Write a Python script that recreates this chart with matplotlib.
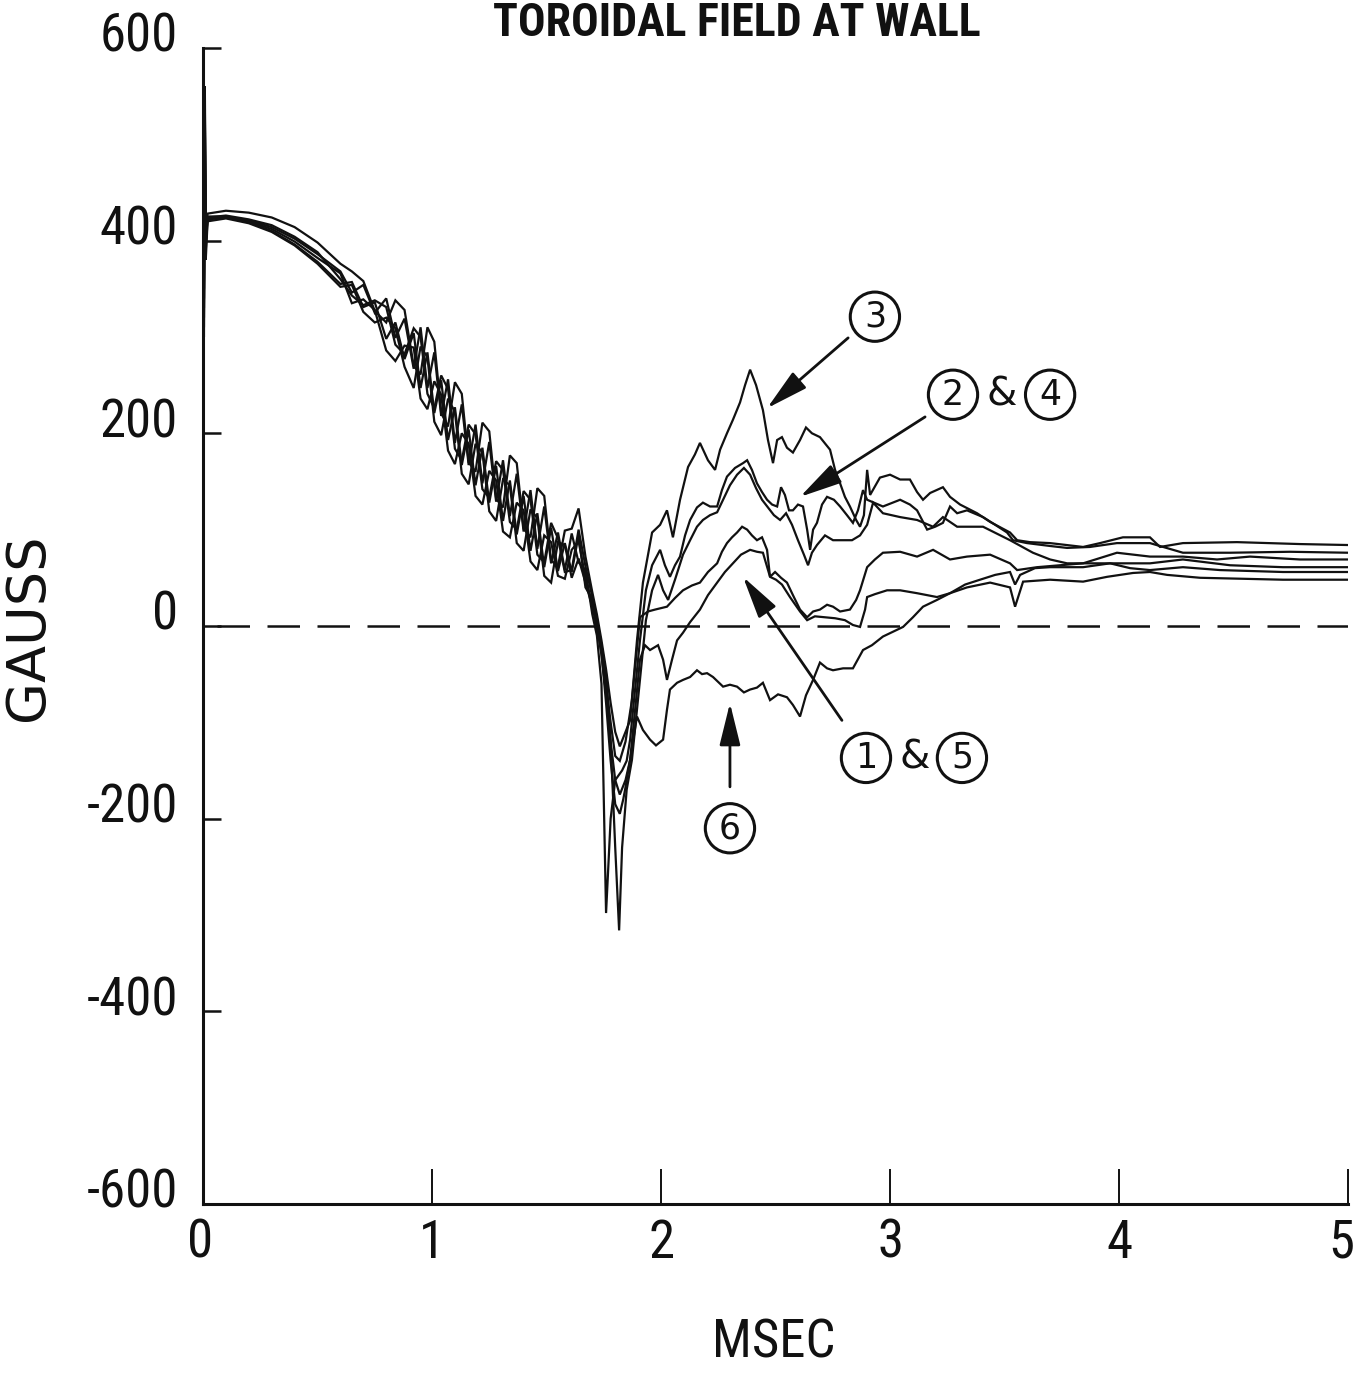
import matplotlib
matplotlib.use("Agg")
import matplotlib.pyplot as plt
from matplotlib import font_manager
from matplotlib.font_manager import FontProperties
import matplotlib.transforms as mtransforms

# ---------------- data ----------------
t_early = [0.0, 0.004, 0.008, 0.012, 0.02, 0.1, 0.2, 0.3, 0.4, 0.5, 0.6, 0.65, 0.7, 0.75, 0.8,
           0.84, 0.88, 0.92, 0.95, 0.98, 1.01, 1.04, 1.07, 1.10, 1.13, 1.16, 1.19, 1.22, 1.25,
           1.28, 1.31, 1.34, 1.37, 1.40, 1.43, 1.46, 1.49, 1.52, 1.55, 1.58, 1.61, 1.64, 1.67,
           1.70, 1.72, 1.74]

s1_early = [570, 330, 540, 390, 422, 424, 419, 410, 396, 378, 355, 357, 331, 336, 298,
            315, 277, 304, 247, 284, 221, 255, 193, 227, 167, 204, 146, 185, 128,
            166, 109, 151, 95, 135, 78, 117, 61, 102, 57, 86, 56, 94, 40, 28, -5, -20]
s2_early = [590, 300, 560, 420, 425, 425, 421, 414, 402, 386, 368, 346, 354, 325, 340,
            299, 319, 267, 310, 247, 284, 218, 256, 190, 230, 167, 209, 148, 191,
            129, 172, 114, 158, 98, 141, 80, 124, 65, 97, 58, 96, 66, 58, 12, -10, -60]
s3_early = [560, 350, 520, 410, 428, 431, 429, 424, 414, 398, 376, 368, 358, 327, 315,
            338, 328, 270, 261, 310, 295, 221, 207, 253, 241, 170, 160, 211, 202,
            132, 123, 177, 169, 101, 92, 143, 135, 68, 62, 99, 101, 122, 72, 35, 12, -15]
s4_early = [580, 320, 500, 400, 424, 426, 422, 416, 404, 388, 360, 343, 333, 338, 331,
            292, 282, 309, 300, 241, 226, 260, 246, 184, 172, 209, 199, 142, 133,
            171, 162, 108, 100, 140, 131, 74, 66, 107, 91, 56, 58, 100, 62, 30, 8, -20]
s5_early = [550, 340, 480, 380, 420, 423, 418, 409, 395, 376, 352, 354, 326, 315, 320,
            309, 269, 247, 290, 279, 212, 198, 236, 222, 158, 147, 189, 180, 119,
            109, 152, 146, 86, 78, 121, 112, 52, 45, 87, 84, 50, 70, 45, 20, 0, -30]
s6_early = [600, 310, 530, 400, 423, 424, 420, 412, 399, 382, 366, 335, 339, 328, 286,
            275, 291, 289, 236, 225, 254, 240, 182, 168, 200, 189, 135, 126, 161,
            151, 98, 92, 128, 120, 67, 58, 94, 87, 52, 49, 79, 88, 50, 22, 2, -28]

s1_tail_t = [1.76, 1.78, 1.80, 1.82, 1.845, 1.873, 1.908, 1.943, 1.974, 2.026, 2.061, 2.096,
             2.135, 2.170, 2.205, 2.245, 2.266, 2.288, 2.310, 2.332, 2.354, 2.376, 2.397,
             2.419, 2.441, 2.463, 2.476, 2.498, 2.524, 2.550, 2.576, 2.607, 2.638, 2.664,
             2.694, 2.725, 2.751, 2.782, 2.825, 2.852, 2.869, 2.900, 2.934, 2.969, 3.044,
             3.118, 3.188, 3.262, 3.336, 3.437, 3.524, 3.555, 3.642, 3.742, 3.843, 4.061,
             4.135, 4.279, 4.485, 4.716, 5.0]
s1_tail_v = [-60, -100, -135, -140, -120, -77, 9, 15, 17, 20, 29, 37, 42, 45, 56, 65, 77, 86,
             92, 97, 103, 100, 94, 89, 92, 79, 51, 56, 50, 45, 32, 17, 9, 15, 17, 22, 20, 15,
             17, 27, 37, 61, 69, 76, 77, 72, 79, 69, 72, 74, 65, 58, 61, 63, 65, 65, 65, 69,
             63, 61, 61]

s2_tail_t = [1.76, 1.78, 1.80, 1.83, 1.85, 1.865, 1.908, 1.934, 1.961, 1.996, 2.017, 2.039,
             2.061, 2.083, 2.105, 2.127, 2.157, 2.183, 2.214, 2.245, 2.266, 2.288, 2.323,
             2.358, 2.376, 2.397, 2.419, 2.441, 2.463, 2.485, 2.507, 2.524, 2.541, 2.559,
             2.576, 2.598, 2.620, 2.638, 2.651, 2.664, 2.681, 2.703, 2.725, 2.755, 2.782,
             2.812, 2.838, 2.860, 2.882, 2.900, 2.969, 3.044, 3.087, 3.118, 3.162, 3.197,
             3.231, 3.262, 3.293, 3.336, 3.406, 3.459, 3.511, 3.537, 3.598, 3.699, 3.773,
             3.873, 3.991, 4.135, 4.279, 4.485, 4.747, 5.0]
s2_tail_v = [-298, -200, -160, -150, -140, -118, -15, 37, 63, 79, 63, 51, 63, 72, 94, 110,
             123, 128, 124, 124, 141, 155, 164, 169, 172, 162, 148, 139, 131, 126, 124, 144,
             136, 120, 120, 126, 124, 100, 79, 100, 107, 126, 134, 131, 124, 115, 107, 120,
             141, 131, 124, 131, 126, 120, 100, 103, 107, 124, 117, 120, 113, 105, 97, 89,
             86, 83, 81, 82, 86, 86, 76, 76, 77, 76]

s3_tail_t = [1.76, 1.78, 1.80, 1.82, 1.845, 1.865, 1.895, 1.921, 1.961, 1.996, 2.026, 2.052,
             2.083, 2.118, 2.148, 2.170, 2.205, 2.236, 2.258, 2.288, 2.314, 2.345, 2.367,
             2.389, 2.415, 2.445, 2.467, 2.489, 2.507, 2.528, 2.550, 2.576, 2.607, 2.633,
             2.659, 2.694, 2.721, 2.738, 2.760, 2.782, 2.803, 2.825, 2.852, 2.869, 2.886,
             2.900, 2.913, 2.956, 3.000, 3.044, 3.087, 3.118, 3.144, 3.175, 3.231, 3.262,
             3.306, 3.380, 3.437, 3.524, 3.555, 3.611, 3.699, 3.843, 3.917, 4.017, 4.135,
             4.179, 4.279, 4.515, 4.790, 5.0]
s3_tail_v = [-45, -80, -110, -125, -110, -98, -15, 45, 97, 105, 120, 92, 131, 165, 178, 190,
             172, 162, 183, 200, 214, 232, 250, 266, 250, 224, 193, 169, 193, 196, 185, 180,
             193, 206, 200, 196, 188, 183, 162, 148, 134, 124, 110, 103, 115, 162, 136, 154,
             157, 152, 152, 139, 131, 138, 144, 134, 126, 117, 108, 97, 89, 87, 86, 82, 86,
             92, 92, 82, 86, 87, 85, 84]

s4_tail_t = [1.76, 1.78, 1.80, 1.817, 1.83, 1.85, 1.873, 1.908, 1.934, 1.961, 1.987, 2.009,
             2.031, 2.061, 2.096, 2.127, 2.157, 2.183, 2.214, 2.245, 2.271, 2.301, 2.332,
             2.362, 2.389, 2.415, 2.441, 2.467, 2.493, 2.520, 2.546, 2.572, 2.598, 2.624,
             2.642, 2.659, 2.681, 2.716, 2.751, 2.790, 2.834, 2.869, 2.900, 2.926, 2.969,
             3.044, 3.118, 3.188, 3.231, 3.293, 3.406, 3.524, 3.624, 3.699, 3.773, 3.843,
             3.991, 4.135, 4.279, 4.428, 4.572, 4.790, 5.0]
s4_tail_v = [-50, -120, -230, -316, -230, -170, -139, -56, 6, 37, 53, 37, 27, 48, 74, 89,
             103, 110, 115, 118, 131, 146, 157, 164, 157, 143, 131, 123, 115, 110, 117, 105,
             89, 74, 63, 76, 84, 94, 89, 89, 89, 94, 105, 128, 117, 113, 110, 103, 113, 103,
             103, 89, 76, 69, 65, 65, 76, 72, 72, 69, 72, 69, 69]

s5_tail_t = [1.76, 1.78, 1.80, 1.82, 1.845, 1.865, 1.891, 1.908, 1.930, 1.952, 1.987, 2.009,
             2.026, 2.048, 2.070, 2.096, 2.127, 2.170, 2.205, 2.245, 2.279, 2.314, 2.349,
             2.389, 2.419, 2.445, 2.476, 2.502, 2.528, 2.563, 2.607, 2.638, 2.672, 2.716,
             2.760, 2.803, 2.838, 2.869, 2.891, 2.900, 2.934, 2.987, 3.044, 3.118, 3.205,
             3.262, 3.336, 3.437, 3.524, 3.546, 3.581, 3.699, 3.843, 3.948, 4.061, 4.135,
             4.210, 4.354, 4.716, 5.0]
s5_tail_v = [-70, -120, -160, -175, -160, -139, -77, -35, -20, -25, -20, -35, -56, -35, -15,
             -7, 4, 17, 32, 45, 56, 65, 74, 79, 77, 76, 51, 48, 43, 30, 15, 6, 10, 9, 8, 6, 1,
             -1, 17, 30, 33, 37, 37, 34, 30, 34, 40, 45, 40, 20, 46, 48, 46, 51, 55, 56, 53,
             50, 48, 48]

s6_tail_t = [1.76, 1.78, 1.80, 1.82, 1.835, 1.843, 1.865, 1.895, 1.921, 1.952, 1.978, 2.009,
             2.026, 2.039, 2.070, 2.096, 2.127, 2.157, 2.179, 2.201, 2.227, 2.249, 2.271,
             2.301, 2.332, 2.362, 2.389, 2.419, 2.445, 2.476, 2.511, 2.550, 2.576, 2.607,
             2.633, 2.664, 2.694, 2.725, 2.751, 2.795, 2.838, 2.882, 2.921, 2.969, 3.013,
             3.057, 3.100, 3.144, 3.205, 3.262, 3.328, 3.393, 3.459, 3.524, 3.546, 3.568,
             3.633, 3.699, 3.843, 3.961, 4.048, 4.135, 4.279, 4.441, 4.716, 5.0]
s6_tail_v = [-80, -140, -185, -195, -180, -170, -139, -94, -108, -118, -124, -118, -87, -66,
             -59, -56, -53, -46, -50, -49, -53, -58, -63, -61, -63, -69, -66, -64, -59, -77,
             -71, -74, -82, -94, -72, -56, -38, -44, -46, -44, -44, -25, -20, -11, -6, -1, 9,
             20, 27, 34, 43, 48, 53, 56, 43, 53, 60, 61, 61, 65, 60, 58, 61, 58, 56, 56]

x_ticks = [0, 1, 2, 3, 4, 5]
y_ticks = [-600, -400, -200, 0, 200, 400, 600]

# ---------------- fonts ----------------
ttf = font_manager.fontManager.ttflist
names = {f.name for f in ttf}
COND = ('condensed', 'semi-condensed', 'extra-condensed', 'ultra-condensed')


def find_font(bold=False):
    for n in ['Liberation Sans Narrow', 'Roboto Condensed', 'Open Sans Condensed',
              'Noto Sans Condensed', 'Arial Narrow']:
        if n in names:
            return FontProperties(family=n, weight='bold' if bold else 'normal')
    good = [f for f in ttf if str(f.stretch) in COND or 'Condensed' in f.fname
            or 'Narrow' in f.fname]

    def isbold(f):
        w = f.weight
        return (w == 'bold') or (isinstance(w, int) and w >= 600)
    sel = [f for f in good if isbold(f) == bold and 'Oblique' not in f.fname
           and 'Italic' not in f.fname]
    if sel:
        sel.sort(key=lambda f: (0 if 'Serif' in f.fname else 1, f.fname))
        return FontProperties(fname=sel[0].fname)
    return None


fp_reg = find_font(False)
fp_bold = find_font(True)
cond_ok = fp_reg is not None
if fp_reg is None:
    fp_reg = FontProperties(family='DejaVu Sans')
if fp_bold is None:
    fp_bold = FontProperties(family='DejaVu Sans', weight='bold')
plt.rcParams['axes.unicode_minus'] = False

tick_size = 38 if cond_ok else 33


def fp(base, size):
    p = base.copy()
    p.set_size(size)
    return p


# ---------------- figure ----------------
fig = plt.figure(figsize=(13.57, 13.73), dpi=100)
fig.patch.set_facecolor('white')
ax = fig.add_axes([0.1496, 0.1231, 0.8438, 0.8420])

series = [
    (s1_early, s1_tail_t, s1_tail_v),
    (s2_early, s2_tail_t, s2_tail_v),
    (s3_early, s3_tail_t, s3_tail_v),
    (s4_early, s4_tail_t, s4_tail_v),
    (s5_early, s5_tail_t, s5_tail_v),
    (s6_early, s6_tail_t, s6_tail_v),
]
for early, tt, tv in series:
    ax.plot(t_early + tt, early + tv, color='#111111', lw=1.6, solid_joinstyle='miter')

ax.axhline(0, xmin=0.012, xmax=1.0, color='#111111', lw=1.8, dashes=(13, 7))

ax.set_xlim(0, 5)
ax.set_ylim(-600, 600)
ax.set_xticks(x_ticks)
ax.set_yticks(y_ticks)
ax.set_xticklabels([str(v) for v in x_ticks])
ax.set_yticklabels([str(v) for v in y_ticks])
for lab in ax.get_xticklabels() + ax.get_yticklabels():
    lab.set_fontproperties(fp(fp_reg, tick_size))
ax.tick_params(axis='x', direction='in', length=25, width=1.4, pad=10, colors='#111111')
ax.tick_params(axis='y', direction='in', length=13, width=1.8, pad=18, colors='#111111')
for s in ('top', 'right'):
    ax.spines[s].set_visible(False)
for s in ('left', 'bottom'):
    ax.spines[s].set_linewidth(2.2)
    ax.spines[s].set_color('#111111')

up = mtransforms.ScaledTranslation(0, 0.16, fig.dpi_scale_trans)
for lab in ax.get_yticklabels():
    lab.set_transform(lab.get_transform() + up)
xl = ax.get_xticklabels()
xl[-1].set_transform(xl[-1].get_transform() +
                     mtransforms.ScaledTranslation(-0.07, 0, fig.dpi_scale_trans))
xl[0].set_transform(xl[0].get_transform() +
                    mtransforms.ScaledTranslation(-0.03, 0, fig.dpi_scale_trans))

fig.text(0.543, 0.983, 'TOROIDAL FIELD AT WALL', ha='center', va='center',
         fontproperties=fp(fp_bold, 33 if cond_ok else 25), color='#111111')
fig.text(0.0206, 0.543, 'GAUSS', ha='center', va='center', rotation=90,
         fontsize=39, family=['DejaVu Sans'], color='#111111')
fig.text(0.570, 0.0218, 'MSEC', ha='center', va='center',
         fontproperties=fp(fp_reg, 38 if cond_ok else 32), color='#111111')

# ---------------- annotations ----------------
circ = dict(boxstyle='circle,pad=0.22', fc='white', ec='#111111', lw=2.2)
lab_kw = dict(ha='center', va='center', fontsize=25, color='#111111', family=['DejaVu Sans'])
for txt, xy in [('3', (2.934, 321)), ('2', (3.275, 240)), ('4', (3.699, 240)),
                ('1', (2.895, -137)), ('5', (3.314, -137)), ('6', (2.301, -210))]:
    ax.text(xy[0], xy[1], txt, bbox=circ, **lab_kw)
amp_kw = dict(lab_kw)
amp_kw['fontsize'] = 28
for xy in [(3.489, 240), (3.109, -137)]:
    ax.text(xy[0], xy[1], '&', **amp_kw)

arrow = dict(arrowstyle='-|>,head_length=1.3,head_width=0.32', mutation_scale=20,
             lw=2.0, color='#111111', shrinkA=0, shrinkB=0)
for start, end in [((2.817, 299), (2.463, 226)),
                   ((3.153, 217), (2.607, 134)),
                   ((2.790, -98), (2.358, 51)),
                   ((2.301, -167), (2.301, -80))]:
    ax.annotate('', xy=end, xytext=start, arrowprops=arrow)

fig.savefig('out.png', dpi=100, facecolor='white')
